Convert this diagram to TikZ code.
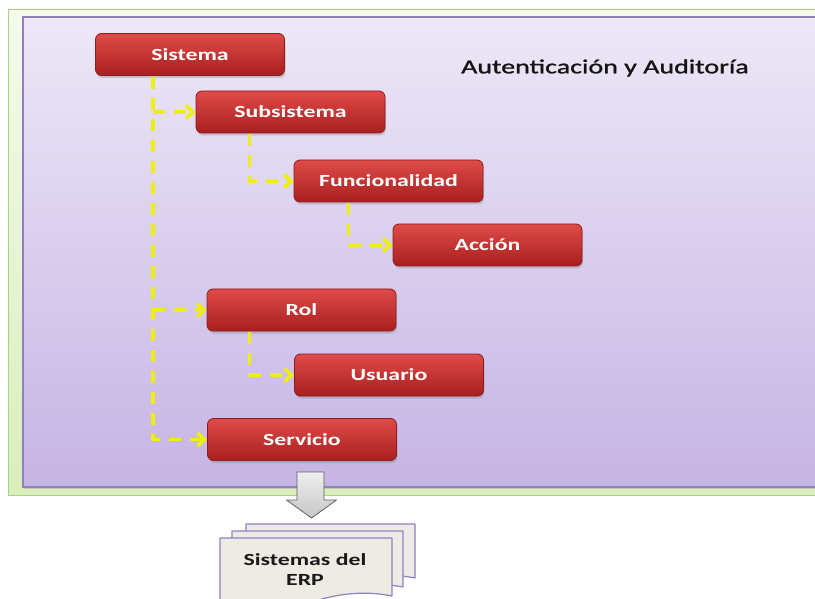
\documentclass[tikz,border=0pt]{standalone}
\usepackage{fontspec}
\usetikzlibrary{arrows.meta,calc,shadows}
\newfontfamily\wfont[FakeStretch=1.4]{Carlito}
\newfontfamily\tfont[FakeStretch=1.4,FakeBold=1.3]{Carlito}

\definecolor{frameGreenTop}{HTML}{F5FAEC}
\definecolor{frameGreenBot}{HTML}{D9EEBB}
\definecolor{frameGreenLine}{HTML}{A9D37C}
\definecolor{panelTop}{HTML}{EDE8F7}
\definecolor{panelBot}{HTML}{C6B4E4}
\definecolor{panelLine}{HTML}{8F7FBF}
\definecolor{boxTop}{HTML}{DF4B49}
\definecolor{boxBot}{HTML}{A81F1F}
\definecolor{boxLine}{HTML}{8E1B1B}
\definecolor{linkYellow}{HTML}{EEEE10}
\definecolor{pageFill}{HTML}{EEEBE4}
\definecolor{pageLine}{HTML}{9080C0}

\tikzset{
  redbox/.style={rounded corners=6pt, top color=boxTop, bottom color=boxBot,
    draw=boxLine, line width=0.8pt, minimum width=189pt, minimum height=42pt,
    inner sep=0pt, text=white, font=\wfont\bfseries\fontsize{17}{20}\selectfont,
    drop shadow={shadow xshift=1pt, shadow yshift=-2.5pt, opacity=0.35}},
  conn/.style={draw=linkYellow, line width=3.5pt, dash pattern=on 12pt off 9pt},
  connarrow/.style={conn, -{Straight Barb[length=7pt,width=13pt]}},
  page/.style={fill=pageFill, draw=pageLine, line width=1.2pt, line join=round},
}

\begin{document}
\begin{tikzpicture}[x=1pt, y=-1pt]
\useasboundingbox (0,0) rectangle (815,599);
\fill[white] (0,0) rectangle (815,599);

% outer green frame and inner lavender panel
\shade[top color=frameGreenTop, bottom color=frameGreenBot, draw=frameGreenLine, line width=1pt]
  (8,10) rectangle (840,495);
\shade[top color=panelTop, bottom color=panelBot, draw=panelLine, line width=1.2pt,
  drop shadow={shadow xshift=1pt, shadow yshift=-1.5pt, opacity=0.3}]
  (23,17) rectangle (840,487);

\node[font=\tfont\fontsize{20}{24}\selectfont, text=black!92] (title) at (605,68)
  {Autenticación y Auditoría};

% hierarchy boxes
\node[redbox] (Sistema)       at (190,54.5)  {Sistema};
\node[redbox] (Subsistema)    at (290.5,112) {Subsistema};
\node[redbox] (Funcionalidad) at (388.5,181) {Funcionalidad};
\node[redbox] (Accion)        at (487.5,245) {Acción};
\node[redbox] (Rol)           at (301.5,310) {Rol};
\node[redbox] (Usuario)       at (389,375)   {Usuario};
\node[redbox] (Servicio)      at (302,439.5) {Servicio};

% dashed yellow links
\coordinate (trunk) at ($(Sistema.south west)+(58,1)$);
\draw[connarrow] (trunk) |- (Servicio.west);
\draw[connarrow] (trunk |- Subsistema.west) -- (Subsistema.west);
\draw[connarrow] (trunk |- Rol.west) -- (Rol.west);

\coordinate (subtrunk) at ($(Subsistema.south west)+(54,1)$);
\draw[connarrow] (subtrunk) |- (Funcionalidad.west);

\coordinate (functrunk) at ($(Funcionalidad.south west)+(55,1)$);
\draw[connarrow] (functrunk) |- (Accion.west);

\coordinate (roltrunk) at ($(Rol.south west)+(43,1)$);
\draw[connarrow] (roltrunk) |- (Usuario.west);

% grey block arrow towards the ERP systems
\coordinate (arrowTop) at (310.5,472);
\shade[top color=gray!12, bottom color=gray!45, draw=gray!75!black, line width=0.8pt, line join=round]
  ($(arrowTop)+(-13.5,0)$) -- ($(arrowTop)+(13.5,0)$) -- ($(arrowTop)+(13.5,28)$)
  -- ($(arrowTop)+(26,28)$) -- ($(arrowTop)+(1,46)$) -- ($(arrowTop)+(-24,28)$)
  -- ($(arrowTop)+(-13.5,28)$) -- cycle;

% stack of documents
\draw[page] (246,524) -- (415,524) -- (415,578)
  .. controls (395,574) and (380,576) .. (360,580) -- (246,580) -- cycle;
\draw[page] (232,531) -- (403,531) -- (403,587)
  .. controls (383,583) and (368,585) .. (348,590) -- (232,590) -- cycle;
\draw[page] (220,538) -- (392,538) -- (392,596)
  .. controls (362,590) and (335,594) .. (305,604) -- (220,606) -- cycle;
\node[font=\wfont\bfseries\fontsize{17}{20}\selectfont, text=black!90, align=center]
  (erp) at (305,570) {Sistemas del\\ERP};
\end{tikzpicture}
\end{document}
